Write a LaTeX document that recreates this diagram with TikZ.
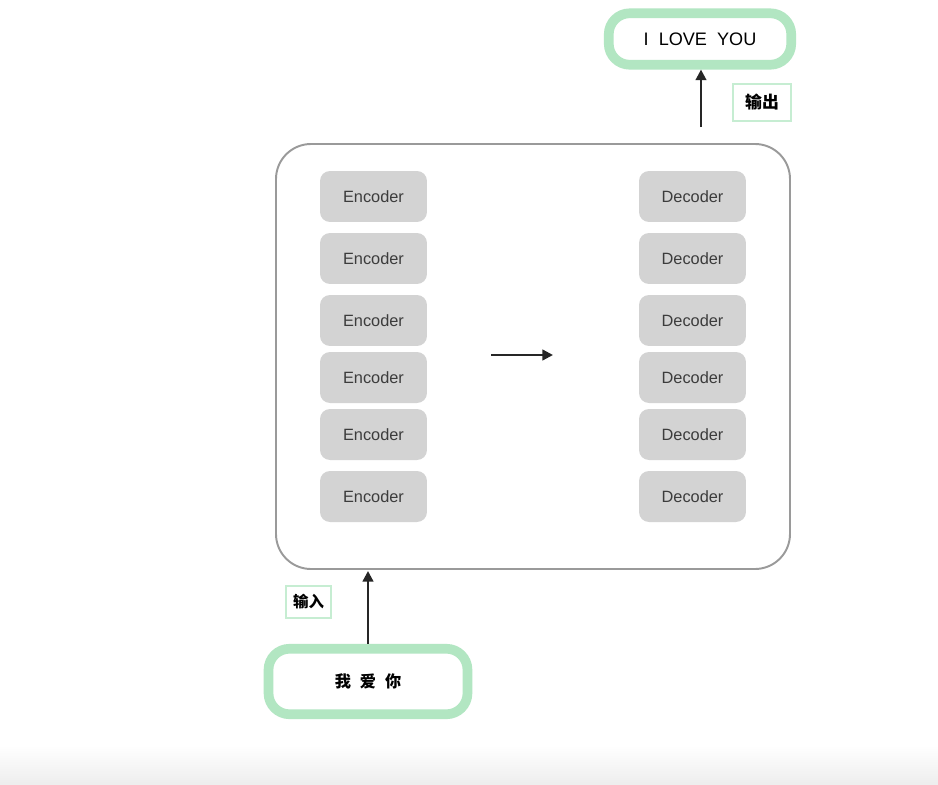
\documentclass[tikz,border=0pt]{standalone}
\usepackage{fontspec}
\setmainfont{Liberation Sans}
\newfontfamily\cjk{Noto Sans CJK SC}
\usetikzlibrary{arrows.meta}
\definecolor{boxgray}{HTML}{D3D3D3}
\definecolor{txtgray}{HTML}{3C3C3C}
\definecolor{framegray}{HTML}{9A9A9A}
\definecolor{mint}{HTML}{B2E6C2}
\definecolor{mintlight}{HTML}{C6EDD2}
\begin{document}
\begin{tikzpicture}[x=0.02cm,y=-0.02cm,
  blk/.style={fill=boxgray,rounded corners=0.2cm,inner sep=0pt,minimum width=2.14cm,minimum height=1.02cm,
    text=txtgray,font=\fontsize{9.3pt}{11pt}\selectfont},
  greenbox/.style={draw=mint,line width=5.5pt,rounded corners=0.42cm,fill=white,inner sep=0pt},
  tagbox/.style={draw=mintlight,line width=1pt,fill=white,inner sep=0pt,font=\cjk\bfseries},
  arr/.style={-{Triangle[length=6pt,width=6pt]},line width=1.3pt,black!85}]
\useasboundingbox (0,0) rectangle (938,785);
\fill[white] (0,0) rectangle (938,785);
\shade[top color=white,bottom color=black!7] (0,745) rectangle (938,785);
% container
\draw[framegray,line width=1.1pt,rounded corners=0.7cm] (276,144) rectangle (790,569);
\node[coordinate] (cbot) at (368,571) {};
\node[coordinate] (ctop) at (701,127) {};
% encoders / decoders
\foreach \i/\y in {1/196.5,2/258.5,3/320.5,4/377.5,5/434.5,6/496.5}{
  \node[blk] (e\i) at (373.5,\y) {Encoder};
  \node[blk] (d\i) at (692.5,\y) {Decoder};
}
\node[coordinate] (ma) at (491,355) {};
\node[coordinate] (mb) at (553,355) {};
\draw[arr] (ma) -- (mb);
% output
\node[greenbox,minimum width=3.65cm,minimum height=1.03cm,font=\fontsize{10.3pt}{12pt}\selectfont] (out) at (700,39) {I\ \ LOVE\ \ YOU};
\draw[arr] (ctop) -- (ctop |- out.south);
\node[tagbox,minimum width=1.16cm,minimum height=0.74cm,font=\cjk\bfseries\fontsize{9.6pt}{11pt}\selectfont] (tout) at (762,102.5) {输出};
% input
\node[greenbox,minimum width=3.98cm,minimum height=1.31cm,font=\cjk\bfseries\fontsize{9.2pt}{11pt}\selectfont] (in) at (368,681.5) {我\hspace{0.18cm}爱\hspace{0.18cm}你};
\draw[arr] (in.north) -- (cbot);
\node[tagbox,minimum width=0.9cm,minimum height=0.64cm,font=\cjk\bfseries\fontsize{8.8pt}{11pt}\selectfont] (tin) at (308.5,602) {输入};
\end{tikzpicture}
\end{document}
